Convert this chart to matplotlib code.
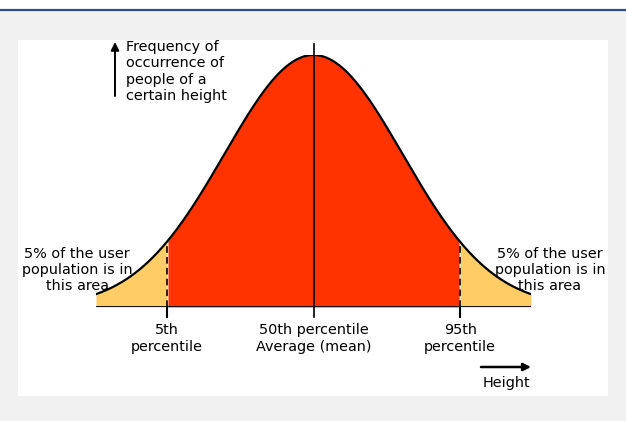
import numpy as np
import matplotlib.pyplot as plt
from matplotlib.patches import Rectangle

# curve limits and percentile positions (in standard deviations)
z_lo, z_hi = -2.44, 2.44
z_p5, z_p95 = -1.645, 1.645
labels = ['5th\npercentile', '50th percentile\nAverage (mean)', '95th\npercentile']
label_z = [z_p5, 0.0, z_p95]
tail_text = '5% of the user\npopulation is in\nthis area'
y_text = 'Frequency of\noccurrence of\npeople of a\ncertain height'

W, H = 626, 421
fig = plt.figure(figsize=(W / 100, H / 100), dpi=100)
fig.patch.set_facecolor('#f1f1f1')

# background: white strip + blue rule at top, white panel
bg = fig.add_axes([0, 0, 1, 1])
bg.set_xlim(0, W)
bg.set_ylim(H, 0)
bg.axis('off')
bg.add_patch(Rectangle((0, 0), W, 9, color='white', lw=0))
bg.plot([0, W], [9.5, 9.5], color='#2f4b8c', lw=1.6)
bg.add_patch(Rectangle((18, 40), 590, 356, color='white', lw=0))

# curve axes: x=-2.44..2.44 -> px 96..531, y=0..1 -> px 307..55
x0, x1, yb, yt = 96, 531, 307, 55
ax = fig.add_axes([x0 / W, (H - yb) / H, (x1 - x0) / W, (yb - yt) / H])
ax.set_xlim(z_lo, z_hi)
ax.set_ylim(0, 1)
ax.axis('off')
ax.patch.set_alpha(0)

z = np.linspace(z_lo, z_hi, 400)
f = np.exp(-z ** 2 / 2)

mid = (z >= z_p5) & (z <= z_p95)
ax.fill_between(z, 0, f, where=mid, color='#ff3300', lw=0)
ax.fill_between(z, 0, f, where=z <= z_p5 + 0.01, color='#ffcc66', lw=0)
ax.fill_between(z, 0, f, where=z >= z_p95 - 0.01, color='#ffcc66', lw=0)
ax.plot(z, f, color='black', lw=1.6, solid_capstyle='round')
ax.plot([z_lo, z_hi], [0, 0], color='black', lw=1.3)

fp = np.exp(-z_p5 ** 2 / 2)
for zz in (z_p5, z_p95):
    ax.plot([zz, zz], [0, fp], color='black', lw=1.2, ls=(0, (4, 2.5)))
    ax.plot([zz, zz], [0, -0.04], color='black', lw=1.5, clip_on=False)
ax.plot([0, 0], [-0.04, 1.045], color='black', lw=1.2, clip_on=False)

font = dict(family='DejaVu Sans', fontsize=10.4, linespacing=1.22)
px = bg.transData
for zz, lab in zip(label_z, labels):
    ax.text(zz, -0.065, lab, ha='center', va='top', clip_on=False, **font)

ax.text(77, 270, tail_text, ha='center', va='center', transform=px, **font)
ax.text(550, 270, tail_text, ha='center', va='center', transform=px, **font)
ax.text(126, 40, y_text, ha='left', va='top', transform=px, **font)
bg.annotate('', xy=(115, 42), xytext=(115, 96),
            arrowprops=dict(arrowstyle='-|>', color='black', lw=1.4,
                            mutation_scale=12, shrinkA=0, shrinkB=0))
bg.annotate('', xy=(531, 367), xytext=(481, 367),
            arrowprops=dict(arrowstyle='-|>', color='black', lw=1.8,
                            mutation_scale=11, shrinkA=0, shrinkB=0))
bg.text(506, 383, 'Height', ha='center', va='center', **font)

fig.savefig('out.png', dpi=100, facecolor=fig.get_facecolor())
